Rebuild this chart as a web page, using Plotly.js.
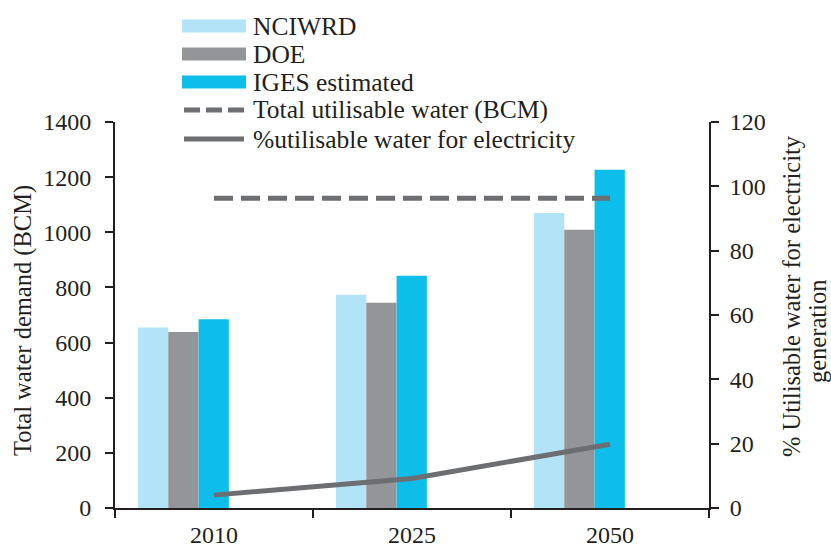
<!DOCTYPE html>
<html>
<head>
<meta charset="utf-8">
<script src="https://cdn.plot.ly/plotly-3.0.1.min.js"></script>
<style>html,body{margin:0;padding:0;background:#fff;}#chart{width:831px;height:548px;}</style>
</head>
<body>
<div id="chart"></div>
<script>
// ---- data ----
const categories = ['2010', '2025', '2050'];
const nciwrd = [655, 773, 1070];
const doe = [638, 744, 1009];
const igesEstimated = [685, 842, 1227];
const totalUtilisable = [1123, 1123, 1123];
const pctElectricity = [4, 9.2, 19.8];
const seriesNames = ['NCIWRD', 'DOE', 'IGES estimated', 'Total utilisable water (BCM)', '%utilisable water for electricity'];
const leftTicks = [0, 200, 400, 600, 800, 1000, 1200, 1400];
const rightTicks = [0, 20, 40, 60, 80, 100, 120];
const leftTitle = 'Total water demand (BCM)';
const rightTitleLines = ['% Utilisable water for electricity', 'generation'];

// ---- style ----
const W = 831, H = 548;
const M = {l: 115, r: 122, t: 122, b: 40};
const PW = W - M.l - M.r, PH = H - M.t - M.b;
const px = x => (x - M.l) / PW;
const py = y => (H - M.b - y) / PH;
const ink = '#231f20';
const font = '"Liberation Serif"';
const colors = ['#b3e3f6', '#939598', '#0ebeea', '#6d6e71', '#6d6e71'];
const barWidth = 0.153, groupStart = -0.384;

const barSeries = [nciwrd, doe, igesEstimated];
const traces = barSeries.map((vals, i) => ({
  type: 'bar', x: categories, y: vals, name: seriesNames[i],
  marker: {color: colors[i], line: {width: 0}},
  width: barWidth, offset: groupStart + i * barWidth,
  xaxis: 'x', yaxis: 'y', showlegend: false
}));
traces.push({
  type: 'scatter', mode: 'lines', x: categories, y: totalUtilisable, name: seriesNames[3],
  line: {color: colors[3], width: 5, dash: '19px,8px'}, yaxis: 'y', showlegend: false
});
traces.push({
  type: 'scatter', mode: 'lines', x: categories, y: pctElectricity, name: seriesNames[4],
  line: {color: colors[4], width: 5}, yaxis: 'y2', showlegend: false
});

// ---- custom legend (paper coords) ----
const shapes = [], annotations = [];
const rowY = [26, 54, 82, 110, 139];
seriesNames.forEach((nm, i) => {
  const y = rowY[i];
  if (i < 3) {
    shapes.push({type: 'rect', xref: 'paper', yref: 'paper', x0: px(182), x1: px(246), y0: py(y - 6.5), y1: py(y + 6.5),
      fillcolor: colors[i], line: {width: 0}});
  } else {
    shapes.push({type: 'line', xref: 'paper', yref: 'paper', x0: px(184), x1: px(244), y0: py(y), y1: py(y),
      line: {color: colors[i], width: 5, dash: i === 3 ? '16px,6px' : 'solid'}});
  }
  annotations.push({xref: 'paper', yref: 'paper', x: px(251), y: py(y), xanchor: 'left', yanchor: 'middle',
    text: nm, showarrow: false, font: {family: font, size: 25.5, color: ink}});
});
annotations.push({xref: 'paper', yref: 'paper', x: px(23), y: py(321), xanchor: 'center', yanchor: 'middle', textangle: -90,
  text: leftTitle, showarrow: false, font: {family: font, size: 24.5, color: ink}});
annotations.push({xref: 'paper', yref: 'paper', x: px(791), y: py(296), xanchor: 'center', yanchor: 'middle', textangle: -90,
  text: rightTitleLines[0], showarrow: false, font: {family: font, size: 24.5, color: ink}});
annotations.push({xref: 'paper', yref: 'paper', x: px(817), y: py(332), xanchor: 'center', yanchor: 'middle', textangle: -90,
  text: rightTitleLines[1], showarrow: false, font: {family: font, size: 24.5, color: ink}});

const axisCommon = {
  showgrid: false, zeroline: false, showline: true, linecolor: ink, linewidth: 2,
  ticks: 'outside', ticklen: 8, tickwidth: 2, tickcolor: ink,
  tickfont: {family: font, size: 24, color: ink}
};

const layout = {
  width: W, height: H, margin: M,
  paper_bgcolor: '#fff', plot_bgcolor: '#fff',
  showlegend: false,
  font: {family: font, color: ink},
  xaxis: Object.assign({}, axisCommon, {type: 'category', range: [-0.5, 2.5], tickson: 'boundaries', ticklabelstandoff: 4}),
  yaxis: Object.assign({}, axisCommon, {range: [0, 1400], tickvals: leftTicks, ticklabelstandoff: 9}),
  yaxis2: Object.assign({}, axisCommon, {range: [0, 120], tickvals: rightTicks, overlaying: 'y', side: 'right', ticklabelstandoff: 6}),
  shapes: shapes, annotations: annotations
};

Plotly.newPlot('chart', traces, layout, {staticPlot: true, displayModeBar: false});
</script>
</body>
</html>
